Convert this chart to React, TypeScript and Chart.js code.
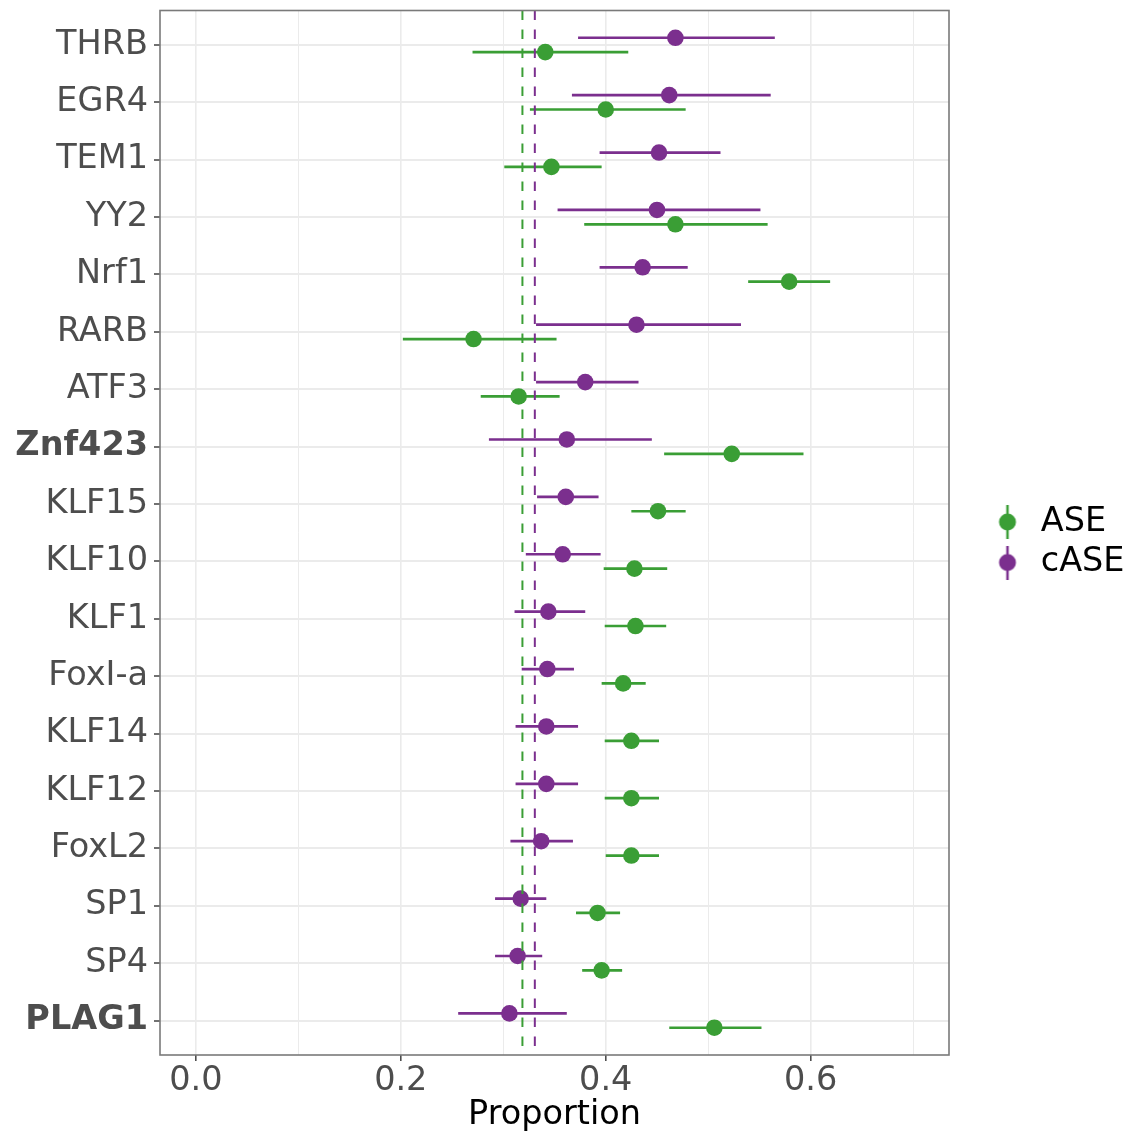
import React, { useEffect, useRef } from 'react';
import { Chart, registerables } from 'chart.js';

Chart.register(...registerables);
Chart.defaults.font.family = '"DejaVu Sans", sans-serif';

// ---------- data ----------
const categories = [
  'THRB', 'EGR4', 'TEM1', 'YY2', 'Nrf1', 'RARB', 'ATF3', 'Znf423', 'KLF15',
  'KLF10', 'KLF1', 'FoxI-a', 'KLF14', 'KLF12', 'FoxL2', 'SP1', 'SP4', 'PLAG1',
];
const boldCategories = ['Znf423', 'PLAG1'];

const aseMean = [0.341, 0.400, 0.347, 0.468, 0.579, 0.271, 0.315, 0.523, 0.451, 0.428, 0.429, 0.417, 0.425, 0.425, 0.425, 0.392, 0.396, 0.506];
const aseLow = [0.270, 0.326, 0.301, 0.379, 0.539, 0.202, 0.278, 0.457, 0.425, 0.398, 0.399, 0.396, 0.399, 0.399, 0.400, 0.371, 0.377, 0.462];
const aseHigh = [0.422, 0.478, 0.396, 0.558, 0.619, 0.352, 0.355, 0.593, 0.478, 0.460, 0.459, 0.439, 0.452, 0.452, 0.452, 0.414, 0.416, 0.552];

const caseMean = [0.468, 0.462, 0.452, 0.450, 0.436, 0.430, 0.380, 0.362, 0.361, 0.358, 0.344, 0.343, 0.342, 0.342, 0.337, 0.317, 0.314, 0.306];
const caseLow = [0.373, 0.367, 0.394, 0.353, 0.394, 0.332, 0.332, 0.286, 0.333, 0.322, 0.311, 0.318, 0.312, 0.312, 0.307, 0.292, 0.292, 0.256];
const caseHigh = [0.565, 0.561, 0.512, 0.551, 0.480, 0.532, 0.432, 0.445, 0.393, 0.395, 0.380, 0.369, 0.373, 0.373, 0.368, 0.342, 0.338, 0.362];

const aseOverall = 0.3187;
const caseOverall = 0.3308;

const seriesLabels = ['ASE', 'cASE'];
const xGridValues = [0, 0.1, 0.2, 0.3, 0.4, 0.5, 0.6, 0.7];
const xTickLabels = ['0.0', '', '0.2', '', '0.4', '', '0.6', ''];
const xAxisTitle = 'Proportion';

// ---------- style ----------
const GREEN = '#3a9e35';
const PURPLE = '#7b2f8e';
const TEXT_GREY = '#4d4d4d';
const GRID = '#ebebeb';
const FONT_SIZE = 33.5;
const DODGE = 0.125;

const X_MIN = -0.035;
const X_MAX = 0.735;
const Y_MIN = -0.6;
const Y_MAX = categories.length - 1 + 0.6;

function errorBarPoints(low: number[], high: number[], offset: number) {
  const pts: { x: number; y: number }[] = [];
  low.forEach((lo, i) => {
    pts.push({ x: lo, y: i + offset });
    pts.push({ x: high[i], y: i + offset });
    pts.push({ x: NaN, y: NaN });
  });
  return pts;
}

function makeGlyph(color: string) {
  const c = document.createElement('canvas');
  c.width = 20;
  c.height = 34;
  const g = c.getContext('2d')!;
  g.strokeStyle = color;
  g.lineWidth = 2.5;
  g.beginPath();
  g.moveTo(10, 0);
  g.lineTo(10, 34);
  g.stroke();
  g.fillStyle = color;
  g.beginPath();
  g.arc(10, 17, 8.5, 0, Math.PI * 2);
  g.fill();
  return c;
}

const panelBorder = {
  id: 'panelBorder',
  afterDraw(chart: any) {
    const { ctx, chartArea } = chart;
    ctx.save();
    ctx.strokeStyle = '#7a7a7a';
    ctx.lineWidth = 1.6;
    ctx.strokeRect(chartArea.left, chartArea.top, chartArea.right - chartArea.left, chartArea.bottom - chartArea.top);
    ctx.restore();
  },
};

const legendPlacement = {
  id: 'legendPlacement',
  afterInit(chart: any) {
    const lg = chart.legend;
    if (!lg) return;
    const fit = lg.fit.bind(lg);
    lg.fit = () => {
      fit();
      lg.width = 179;
    };
  },
  afterLayout(chart: any) {
    const lg = chart.legend;
    if (!lg) return;
    const w = lg.width;
    lg.left = 984;
    lg.right = lg.left + w;
    const dy = (1084.6 - (lg.top + lg.bottom)) / 2;
    lg.top += dy;
    lg.bottom += dy;
  },
};

export default function App() {
  const ref = useRef<HTMLCanvasElement>(null);

  useEffect(() => {
    if (!ref.current) return;
    const glyphs = [makeGlyph(GREEN), makeGlyph(PURPLE)];
    const colors = [GREEN, PURPLE];

    const chart = new Chart(ref.current, {
      type: 'scatter',
      data: {
        datasets: [
          {
            label: 'ASE overall',
            data: [{ x: aseOverall, y: Y_MIN }, { x: aseOverall, y: Y_MAX }],
            showLine: true,
            borderColor: GREEN,
            borderWidth: 2,
            borderDash: [9.5, 9.5],
            pointRadius: 0,
          },
          {
            label: 'cASE overall',
            data: [{ x: caseOverall, y: Y_MIN }, { x: caseOverall, y: Y_MAX }],
            showLine: true,
            borderColor: PURPLE,
            borderWidth: 2,
            borderDash: [9.5, 9.5],
            pointRadius: 0,
          },
          {
            label: 'ASE',
            data: aseMean.map((v, i) => ({ x: v, y: i + DODGE })),
            pointRadius: 8.3,
            pointBorderWidth: 0,
            backgroundColor: GREEN,
            borderColor: GREEN,
          },
          {
            label: 'cASE',
            data: caseMean.map((v, i) => ({ x: v, y: i - DODGE })),
            pointRadius: 8.3,
            pointBorderWidth: 0,
            backgroundColor: PURPLE,
            borderColor: PURPLE,
          },
          {
            label: 'ASE CI',
            data: errorBarPoints(aseLow, aseHigh, DODGE),
            showLine: true,
            spanGaps: false,
            borderColor: GREEN,
            borderWidth: 2.7,
            pointRadius: 0,
          },
          {
            label: 'cASE CI',
            data: errorBarPoints(caseLow, caseHigh, -DODGE),
            showLine: true,
            spanGaps: false,
            borderColor: PURPLE,
            borderWidth: 2.7,
            pointRadius: 0,
          },
        ],
      },
      options: {
        responsive: false,
        animation: false,
        events: [],
        layout: { padding: { top: 10.5, left: 0, right: 0, bottom: 0 } },
        plugins: {
          tooltip: { enabled: false },
          legend: {
            display: true,
            position: 'right',
            labels: {
              usePointStyle: true,
              boxWidth: 33,
              padding: 7,
              color: '#000',
              font: { size: FONT_SIZE },
              generateLabels: () =>
                seriesLabels.map((text, i) => ({
                  text,
                  pointStyle: glyphs[i] as any,
                  fillStyle: colors[i],
                  strokeStyle: colors[i],
                  lineWidth: 0,
                  hidden: false,
                  fontColor: '#000',
                  datasetIndex: 2 + i,
                })),
            },
          },
        },
        scales: {
          x: {
            type: 'linear',
            min: X_MIN,
            max: X_MAX,
            afterBuildTicks: (s: any) => {
              s.ticks = xGridValues.map((v) => ({ value: v }));
            },
            afterFit: (s: any) => {
              s.height = 80;
              s.paddingLeft = 0;
              s.paddingRight = 0;
            },
            ticks: {
              autoSkip: false,
              maxRotation: 0,
              padding: 0,
              color: TEXT_GREY,
              font: { size: FONT_SIZE },
              callback: (_v: any, i: number) => xTickLabels[i] ?? '',
            },
            grid: {
              color: GRID,
              lineWidth: (ctx: any) => (xTickLabels[ctx.index] ? 1.6 : 1),
              tickColor: (ctx: any) => (xTickLabels[ctx.index] ? TEXT_GREY : 'rgba(0,0,0,0)'),
              tickLength: 6,
              tickWidth: 1.6,
            },
            border: { display: false },
            title: {
              display: true,
              text: xAxisTitle,
              color: '#000',
              font: { size: FONT_SIZE },
              padding: { top: 0, bottom: 0 },
            },
          },
          y: {
            type: 'linear',
            reverse: true,
            min: Y_MIN,
            max: Y_MAX,
            afterBuildTicks: (s: any) => {
              s.ticks = categories.map((_c, i) => ({ value: i }));
            },
            afterFit: (s: any) => {
              s.width = 160;
              s.paddingTop = 0;
              s.paddingBottom = 0;
            },
            ticks: {
              autoSkip: false,
              padding: 6,
              color: TEXT_GREY,
              font: (ctx: any) => ({
                size: FONT_SIZE,
                weight: boldCategories.includes(categories[ctx.index]) ? 'bold' : 'normal',
              }),
              callback: (_v: any, i: number) => categories[i] ?? '',
            },
            grid: {
              color: GRID,
              lineWidth: 2,
              tickColor: TEXT_GREY,
              tickLength: 6,
              tickWidth: 1.6,
            },
            border: { display: false },
          },
        },
      },
      plugins: [panelBorder, legendPlacement],
    });

    return () => chart.destroy();
  }, []);

  return (
    <div style={{ position: 'absolute', left: 0, top: 0, width: 1128, height: 1135, background: '#fff' }}>
      <canvas ref={ref} width={1128} height={1135} style={{ display: 'block' }} />
    </div>
  );
}
